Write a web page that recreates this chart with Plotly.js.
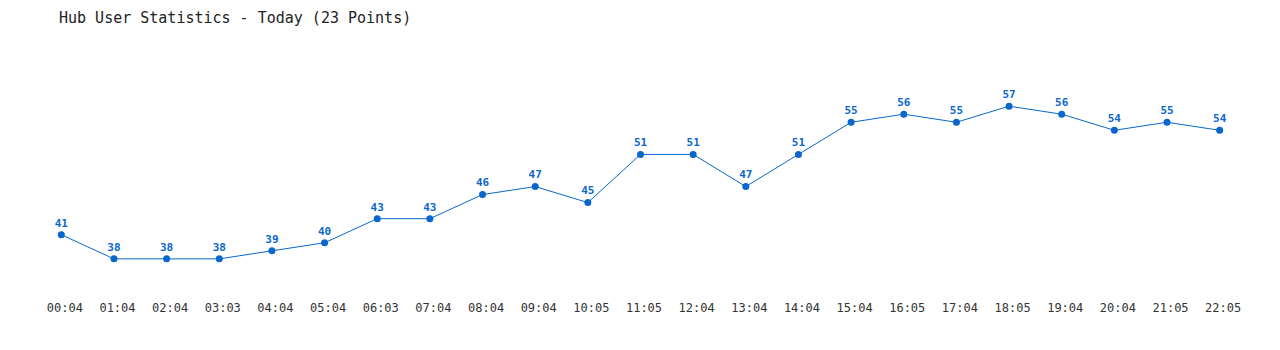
<!DOCTYPE html>
<html>
<head>
<meta charset="utf-8">
<script src="https://cdn.plot.ly/plotly-3.0.1.min.js"></script>
<style>html,body{margin:0;padding:0;background:#fff;}#chart{width:1280px;height:350px;}</style>
</head>
<body>
<div id="chart"></div>
<script>
const timeLabels = ["00:04","01:04","02:04","03:03","04:04","05:04","06:03","07:04","08:04","09:04","10:05","11:05","12:04","13:04","14:04","15:04","16:05","17:04","18:05","19:04","20:04","21:05","22:05"];
const userCounts = [41,38,38,38,39,40,43,43,46,47,45,51,51,47,51,55,56,55,57,56,54,55,54];
const chartTitle = "Hub User Statistics - Today (23 Points)";

const xIdx = timeLabels.map((_, i) => i);
const blue = "#0a66cc";

const trace = {
  x: xIdx,
  y: userCounts,
  type: "scatter",
  mode: "lines+markers+text",
  text: userCounts.map(String),
  textposition: "top center",
  textfont: {family: "DejaVu Sans Mono, monospace", size: 11, color: blue, weight: "bold"},
  line: {color: blue, width: 1},
  marker: {color: blue, size: 7},
  cliponaxis: false,
  hoverinfo: "x+y"
};

// label-only axis, nudged slightly right as in the reference
const labelTrace = {
  x: xIdx, y: userCounts, xaxis: "x2", type: "scatter", mode: "markers",
  marker: {opacity: 0, size: 1}, hoverinfo: "skip", showlegend: false
};

const shift = 3.5 / 52.65;

const layout = {
  width: 1280,
  height: 350,
  paper_bgcolor: "#ffffff",
  plot_bgcolor: "#ffffff",
  margin: {l: 35, r: 34, t: 66, b: 59},
  showlegend: false,
  title: {
    text: chartTitle,
    font: {family: "DejaVu Sans Mono, monospace", size: 15, color: "#222222"},
    xref: "container", yref: "container",
    x: 59/1280, xanchor: "left",
    y: 1 - 18/350, yanchor: "middle"
  },
  xaxis: {
    range: [-0.5, 22.5],
    showgrid: false, zeroline: false, showline: false,
    showticklabels: false, ticks: "",
    fixedrange: true
  },
  xaxis2: {
    overlaying: "x",
    side: "bottom",
    range: [-0.5 - shift, 22.5 - shift],
    tickvals: xIdx,
    ticktext: timeLabels,
    showgrid: false, zeroline: false, showline: false,
    ticks: "",
    ticklabelstandoff: 8,
    tickfont: {family: "DejaVu Sans Mono, monospace", size: 12, color: "#333333"},
    fixedrange: true
  },
  yaxis: {
    range: [34, 62],
    showgrid: false, zeroline: false, showline: false,
    showticklabels: false, ticks: "",
    fixedrange: true
  }
};

Plotly.newPlot("chart", [labelTrace, trace], layout, {displayModeBar: false, staticPlot: true});
</script>
</body>
</html>
